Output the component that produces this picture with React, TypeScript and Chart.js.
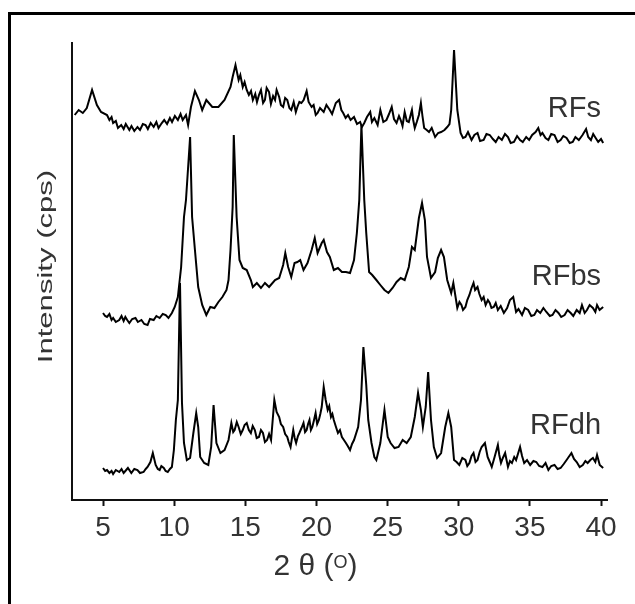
import { useEffect, useRef } from "react";
import { Chart, registerables } from "chart.js";

Chart.register(...registerables);

// 2θ tick values
const X_TICKS = [5, 10, 15, 20, 25, 30, 35, 40];
const X_MIN = 2.82;
const X_MAX = 40.42;
const Y_MIN = 0;
const Y_MAX = 457;

// RFs (top pattern, offset intensity)
const RFS_X = [
  3.01, 3.29, 3.58, 3.86, 4.23, 4.57, 4.86, 5.28, 5.45, 5.6, 5.71, 5.9, 6.05, 6.28, 6.45, 6.6, 6.85, 7.0,
  7.2, 7.42, 7.6, 7.8, 7.99, 8.15, 8.35, 8.56, 8.75, 8.9, 9.13, 9.3, 9.5, 9.7, 9.85, 10.05, 10.26, 10.45,
  10.6, 10.83, 10.98, 11.18, 11.46, 11.74, 11.97, 12.26, 12.68, 13.11, 13.54, 13.96, 14.11, 14.31, 14.53,
  14.65, 14.82, 14.95, 15.1, 15.25, 15.4, 15.53, 15.7, 15.82, 15.96, 16.1, 16.25, 16.38, 16.5, 16.67, 16.8,
  16.95, 17.09, 17.2, 17.38, 17.5, 17.66, 17.8, 17.95, 18.1, 18.23, 18.4, 18.55, 18.66, 18.8, 18.94, 19.1,
  19.31, 19.45, 19.66, 19.8, 19.95, 20.08, 20.25, 20.51, 20.7, 20.94, 21.1, 21.36, 21.59, 21.75, 21.88,
  22.05, 22.22, 22.4, 22.64, 22.85, 23.07, 23.2, 23.36, 23.55, 23.78, 23.9, 24.07, 24.3, 24.49, 24.7, 24.92,
  25.1, 25.29, 25.45, 25.63, 25.8, 25.92, 26.05, 26.2, 26.35, 26.49, 26.6, 26.71, 26.8, 26.91, 27.05, 27.2,
  27.34, 27.45, 27.57, 27.75, 27.91, 28.1, 28.34, 28.55, 28.76, 29.0, 29.19, 29.35, 29.47, 29.67, 29.9,
  30.13, 30.3, 30.47, 30.65, 30.9, 31.1, 31.32, 31.5, 31.75, 31.95, 32.18, 32.4, 32.6, 32.8, 33.03, 33.25,
  33.46, 33.65, 33.88, 34.1, 34.31, 34.5, 34.74, 34.95, 35.16, 35.4, 35.59, 35.75, 35.88, 36.1, 36.3, 36.5,
  36.73, 36.95, 37.16, 37.35, 37.58, 37.8, 38.01, 38.2, 38.44, 38.7, 38.95, 39.1, 39.29, 39.45, 39.58, 39.8,
  40.0, 40.15,
];
const RFS_Y = [
  385, 390, 387, 392, 410, 395, 388, 385, 380, 383, 377, 379, 372, 375, 371, 376, 370, 374,
  369, 373, 370, 376, 375, 371, 377, 373, 378, 372, 377, 380, 376, 382, 378, 384, 380, 386,
  380, 385, 375, 393, 409, 400, 390, 400, 393, 393, 400, 413, 423, 435, 420,
  425, 413, 418, 410, 405, 409, 400, 406, 398, 405, 410, 397, 400, 412, 408, 396,
  404, 400, 410, 403, 395, 393, 402, 400, 392, 390, 398, 388, 393, 398, 397, 400,
  409, 398, 393, 395, 385, 387, 392, 388, 395, 390, 386, 397, 400, 390, 387,
  382, 385, 380, 383, 376, 378, 373, 377, 383, 388, 378, 382, 375, 390, 378, 380,
  386, 393, 381, 377, 384, 380, 374, 388, 379, 378, 384, 390, 380, 372, 378, 385,
  397, 384, 372, 370, 368, 372, 363, 367, 368, 370, 373, 376, 390, 450, 390,
  367, 362, 363, 368, 360, 365, 367, 359, 360, 366, 365, 361, 358, 363, 360, 366,
  363, 357, 358, 364, 360, 358, 363, 360, 365, 368, 372, 365, 367, 362, 360, 366,
  365, 358, 360, 364, 362, 357, 358, 363, 360, 365, 371, 363, 360, 366, 363, 358,
  361, 357,
];

// RFbs (middle pattern)
const RFBS_X = [
  5.0, 5.15, 5.28, 5.45, 5.6, 5.71, 5.9, 6.14, 6.3, 6.45, 6.57, 6.7, 6.85, 7.05, 7.28, 7.45, 7.7, 7.9,
  8.13, 8.3, 8.56, 8.75, 8.98, 9.2, 9.41, 9.6, 9.84, 10.04, 10.26, 10.49, 10.69, 10.83, 11.12, 11.26,
  11.46, 11.69, 11.97, 12.26, 12.54, 12.83, 13.11, 13.39, 13.68, 13.82, 13.96, 14.11, 14.19, 14.39,
  14.59, 14.82, 15.1, 15.39, 15.53, 15.81, 16.1, 16.38, 16.67, 17.09, 17.38, 17.66, 17.81, 18.01, 18.23,
  18.46, 18.66, 18.86, 19.09, 19.37, 19.66, 19.88, 20.08, 20.37, 20.51, 20.74, 20.94, 21.22, 21.51,
  21.79, 22.07, 22.36, 22.64, 22.84, 23.01, 23.16, 23.36, 23.5, 23.7, 23.92, 24.21, 24.49, 24.78, 25.06,
  25.35, 25.63, 25.92, 26.2, 26.49, 26.71, 26.91, 27.2, 27.42, 27.62, 27.77, 28.05, 28.34, 28.53, 28.76,
  28.96, 29.19, 29.47, 29.62, 29.9, 30.05, 30.19, 30.3, 30.47, 30.6, 30.75, 30.9, 31.04, 31.15, 31.32,
  31.45, 31.61, 31.75, 31.89, 32.05, 32.18, 32.3, 32.46, 32.6, 32.75, 32.95, 33.17, 33.4, 33.6, 33.83,
  34.03, 34.2, 34.45, 34.65, 34.88, 35.1, 35.31, 35.5, 35.73, 35.95, 36.16, 36.4, 36.59, 36.8, 37.01,
  37.2, 37.44, 37.65, 37.87, 38.05, 38.29, 38.5, 38.66, 38.85, 39.01, 39.2, 39.43, 39.6, 39.72, 39.9,
  40.15,
];
const RFBS_Y = [
  187, 184, 183, 186, 180, 182, 178, 180, 184, 179, 183, 180, 177, 181, 182, 178, 180, 176,
  175, 181, 180, 184, 182, 186, 185, 182, 187, 193, 203, 233, 283, 300, 363, 283,
  250, 213, 195, 185, 193, 192, 198, 203, 210, 220, 250, 293, 365, 283,
  240, 232, 230, 220, 213, 217, 212, 217, 213, 220, 222, 235, 247, 233, 223,
  237, 238, 240, 230, 237, 250, 262, 247, 257, 260, 248, 243, 230, 232,
  228, 228, 227, 240, 267, 300, 375, 300, 267, 228, 225, 220, 215, 210, 207,
  212, 218, 222, 220, 233, 253, 250, 282, 297, 280, 243, 222, 228, 242, 250,
  243, 220, 207, 217, 192, 198, 195, 190, 193, 200, 205, 212, 217, 210, 213,
  206, 200, 203, 195, 200, 197, 192, 193, 197, 190, 194, 187, 192, 200, 203,
  188, 191, 185, 192, 190, 184, 185, 190, 187, 192, 188, 184, 185, 190, 187,
  183, 185, 190, 187, 184, 190, 187, 195, 187, 190, 195, 192, 188, 195, 190,
  193,
];

// RFdh (bottom pattern)
const RFDH_X = [
  5.0, 5.15, 5.28, 5.45, 5.6, 5.71, 5.9, 6.14, 6.3, 6.45, 6.57, 6.75, 6.99, 7.2, 7.42, 7.6, 7.85, 8.0,
  8.13, 8.33, 8.5, 8.7, 8.85, 8.98, 9.1, 9.27, 9.4, 9.55, 9.7, 9.84, 9.98, 10.12, 10.26, 10.41, 10.55,
  10.69, 10.89, 11.12, 11.35, 11.55, 11.69, 11.83, 12.11, 12.4, 12.6, 12.77, 12.97, 13.25, 13.54, 13.82,
  14.02, 14.15, 14.25, 14.4, 14.53, 14.68, 14.82, 14.95, 15.1, 15.25, 15.39, 15.52, 15.67, 15.8, 15.96,
  16.1, 16.24, 16.38, 16.53, 16.67, 16.81, 17.04, 17.2, 17.38, 17.5, 17.66, 17.8, 17.95, 18.05, 18.18,
  18.37, 18.47, 18.57, 18.7, 18.8, 18.95, 19.09, 19.2, 19.31, 19.41, 19.51, 19.61, 19.71, 19.83, 19.94,
  20.05, 20.17, 20.27, 20.37, 20.51, 20.65, 20.79, 20.9, 21.02, 21.12, 21.22, 21.35, 21.51, 21.65, 21.79,
  21.93, 22.07, 22.2, 22.36, 22.5, 22.64, 22.93, 23.13, 23.3, 23.5, 23.64, 23.87, 24.07, 24.21, 24.49,
  24.78, 25.01, 25.21, 25.49, 25.77, 26.06, 26.34, 26.63, 26.91, 27.14, 27.34, 27.48, 27.68, 27.85, 28.05,
  28.25, 28.48, 28.76, 29.05, 29.27, 29.47, 29.67, 29.85, 30.04, 30.25, 30.47, 30.6, 30.75, 30.9, 31.04,
  31.18, 31.32, 31.47, 31.61, 31.84, 32.03, 32.18, 32.32, 32.52, 32.75, 32.85, 32.97, 33.1, 33.26, 33.46,
  33.6, 33.74, 33.9, 34.03, 34.31, 34.45, 34.6, 34.8, 35.02, 35.25, 35.45, 35.65, 35.88, 36.1, 36.3, 36.5,
  36.73, 36.95, 37.16, 37.38, 37.58, 37.92, 38.1, 38.29, 38.5, 38.72, 38.9, 39.06, 39.25, 39.43, 39.6,
  39.72, 39.91, 40.15,
];
const RFDH_Y = [
  32, 29, 30, 27, 29, 26, 30, 28, 31, 27, 29, 32, 27, 31, 30, 27, 28, 31,
  33, 38, 47, 35, 31, 30, 34, 32, 29, 28, 31, 33, 50, 80, 100, 217, 97,
  57, 40, 42, 67, 87, 73, 43, 37, 35, 53, 95, 57, 47, 50, 60,
  77, 68, 70, 78, 73, 66, 70, 75, 77, 70, 67, 74, 70, 62, 63,
  70, 67, 58, 60, 66, 60, 100, 88, 83, 76, 73, 66, 63, 58, 53,
  70, 62, 57, 64, 67, 72, 77, 68, 70, 76, 80, 70, 73, 80, 87,
  76, 80, 86, 93, 113, 100, 90, 94, 83, 86, 80, 74, 67, 70, 63,
  60, 57, 54, 50, 56, 60, 73, 100, 153, 115, 80, 57, 43, 40, 57,
  90, 63, 57, 52, 53, 60, 57, 63, 83, 107, 90, 73, 93, 128, 80,
  53, 42, 47, 73, 87, 73, 40, 38, 35, 42, 40, 34, 37, 44, 47,
  38, 40, 48, 53, 57, 43, 38, 33, 43, 55, 45, 37, 42, 47, 33,
  39, 37, 43, 40, 53, 44, 37, 40, 35, 39, 38, 34, 33, 37, 30, 34,
  35, 31, 32, 36, 40, 47, 41, 38, 33, 35, 39, 37, 40, 42, 38,
  45, 35, 32,
];

const SERIES_LABELS = ["RFs", "RFbs", "RFdh"];
const LABEL_X = [40, 40, 40];
const LABEL_Y = [383, 215, 66];
const X_TITLE_PARTS = ["2 θ (", "O", ")"];
const Y_TITLE = "Intensity (cps)";

const FONT = '"Liberation Sans", Arial, Helvetica, sans-serif';

export default function App() {
  const ref = useRef<HTMLCanvasElement | null>(null);

  useEffect(() => {
    if (!ref.current) return;
    const toPts = (xs: number[], ys: number[]) => xs.map((x, i) => ({ x, y: ys[i] }));

    const textPlugin = {
      id: "xrdText",
      afterDraw(chart: any) {
        const { ctx, chartArea } = chart;
        const xs = chart.scales.x;
        const ys = chart.scales.y;
        ctx.save();
        // series labels
        ctx.fillStyle = "#333";
        ctx.font = `29px ${FONT}`;
        ctx.textAlign = "right";
        ctx.textBaseline = "alphabetic";
        SERIES_LABELS.forEach((t, i) => {
          ctx.fillText(t, xs.getPixelForValue(LABEL_X[i]), ys.getPixelForValue(LABEL_Y[i]));
        });
        // x title with superscript
        const big = `30px ${FONT}`;
        const small = `18px ${FONT}`;
        ctx.textAlign = "left";
        ctx.font = big;
        const w0 = ctx.measureText(X_TITLE_PARTS[0]).width;
        const w2 = ctx.measureText(X_TITLE_PARTS[2]).width;
        ctx.font = small;
        const w1 = ctx.measureText(X_TITLE_PARTS[1]).width;
        const total = w0 + w1 + w2;
        const cx = chartArea.left + (chartArea.right - chartArea.left) * 0.455;
        const base = chartArea.bottom + 75;
        let px = cx - total / 2;
        ctx.font = big;
        ctx.fillText(X_TITLE_PARTS[0], px, base);
        px += w0;
        ctx.font = small;
        ctx.fillText(X_TITLE_PARTS[1], px, base - 7);
        px += w1;
        ctx.font = big;
        ctx.fillText(X_TITLE_PARTS[2], px, base);
        // y title (tall, narrow lettering)
        ctx.translate(chartArea.left - 20, (chartArea.top + chartArea.bottom) / 2 - 5);
        ctx.rotate(-Math.PI / 2);
        ctx.scale(1.48, 1);
        ctx.font = `21px ${FONT}`;
        ctx.textAlign = "center";
        ctx.fillText(Y_TITLE, 0, 0);
        ctx.restore();
      },
    };

    const lineDs = (label: string, xs: number[], ys: number[]) => ({
      label,
      data: toPts(xs, ys),
      borderColor: "#000",
      borderWidth: 2,
      pointRadius: 0,
      tension: 0,
      fill: false,
    });

    const chart = new Chart(ref.current, {
      type: "line",
      data: {
        datasets: [
          lineDs("RFs", RFS_X, RFS_Y),
          lineDs("RFbs", RFBS_X, RFBS_Y),
          lineDs("RFdh", RFDH_X, RFDH_Y),
        ],
      },
      options: {
        responsive: false,
        animation: false,
        events: [],
        layout: { padding: { left: 0, top: 43, right: 28, bottom: 0 } },
        plugins: { legend: { display: false }, tooltip: { enabled: false } },
        scales: {
          x: {
            type: "linear",
            min: X_MIN,
            max: X_MAX,
            afterBuildTicks: (s: any) => {
              s.ticks = X_TICKS.map((v) => ({ value: v }));
            },
            afterFit: (s: any) => {
              s.height = 104;
            },
            grid: {
              display: true,
              drawOnChartArea: false,
              drawTicks: true,
              tickLength: 6,
              tickWidth: 2,
              tickColor: "#111",
              color: "#111",
            },
            border: { display: true, color: "#111", width: 2 },
            ticks: {
              color: "#333",
              font: { family: FONT, size: 28 },
              padding: 5,
              maxRotation: 0,
              autoSkip: false,
            },
          },
          y: {
            type: "linear",
            min: Y_MIN,
            max: Y_MAX,
            afterFit: (s: any) => {
              s.width = 72;
            },
            grid: { display: false },
            border: { display: true, color: "#111", width: 2 },
            ticks: { display: false },
          },
        },
      },
      plugins: [textPlugin],
    } as any);

    return () => chart.destroy();
  }, []);

  return (
    <div
      style={{
        position: "fixed",
        left: 0,
        top: 0,
        width: 635,
        height: 604,
        overflow: "hidden",
        background: "#fff",
      }}
    >
      <div
        style={{
          position: "absolute",
          left: 8,
          top: 12,
          width: 660,
          height: 620,
          borderTop: "3px solid #000",
          borderLeft: "3px solid #000",
          boxSizing: "border-box",
        }}
      />
      <canvas
        ref={ref}
        width={635}
        height={604}
        style={{ position: "absolute", left: 0, top: 0, width: 635, height: 604 }}
      />
    </div>
  );
}
